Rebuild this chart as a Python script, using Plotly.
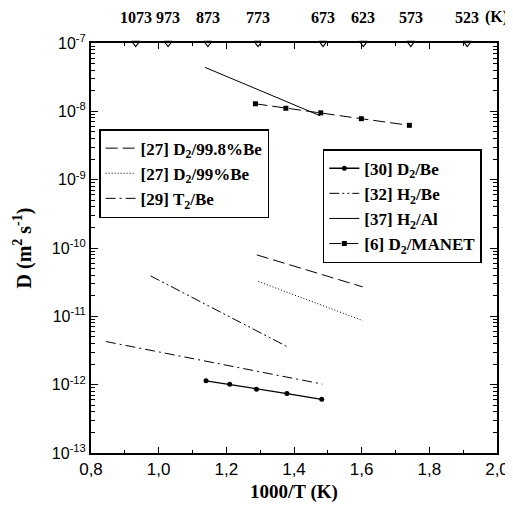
import plotly.graph_objects as go

# ---- data ----
d30_x = [1.140, 1.210, 1.289, 1.379, 1.482]
d30_y = [1.14e-12, 1.01e-12, 8.6e-13, 7.4e-13, 6.1e-13]

h32_x = [0.976, 1.379]
h32_y = [3.91e-11, 3.62e-12]

t29_x = [0.844, 1.484]
t29_y = [4.28e-12, 1.02e-12]

d27a_x = [1.290, 1.603]
d27a_y = [7.93e-11, 2.70e-11]

d27b_x = [1.295, 1.603]
d27b_y = [3.23e-11, 8.68e-12]

h37_x = [1.137, 1.477]
h37_y = [4.40e-8, 8.63e-9]

manet_x = [1.286, 1.376, 1.479, 1.599, 1.741]
manet_y = [1.29e-8, 1.11e-8, 9.5e-9, 7.8e-9, 6.24e-9]

top_temps = [1073, 973, 873, 773, 673, 623, 573, 523]
top_pos = [1000.0 / t for t in top_temps]

x_tickvals = [0.8, 1.0, 1.2, 1.4, 1.6, 1.8, 2.0]
x_ticktext = ["0,8", "1,0", "1,2", "1,4", "1,6", "1,8", "2,0"]
x_minor = [0.9, 1.1, 1.3, 1.5, 1.7, 1.9]
y_exps = [-13, -12, -11, -10, -9, -8, -7]
y_tickvals = [10.0 ** e for e in y_exps]
y_ticktext = ["10<sup>%d</sup>" % e for e in y_exps]
y_minor = [m * 10.0 ** e for e in y_exps[:-1] for m in range(2, 10)]

TIMES = "Liberation Serif"
SANS = "Liberation Sans"

fig = go.Figure()

# legend 1 traces
fig.add_trace(go.Scatter(x=d27a_x, y=d27a_y, mode="lines", name="[27] D<sub>2</sub>/99.8%Be",
                         line=dict(color="black", width=1, dash="12px,5px"), legend="legend"))
fig.add_trace(go.Scatter(x=d27b_x, y=d27b_y, mode="lines", name="[27] D<sub>2</sub>/99%Be",
                         line=dict(color="black", width=1, dash="1px,2px"), legend="legend"))
fig.add_trace(go.Scatter(x=t29_x, y=t29_y, mode="lines", name="[29] T<sub>2</sub>/Be",
                         line=dict(color="black", width=1, dash="10px,4px,2px,4px"), legend="legend"))

# legend 2 traces
fig.add_trace(go.Scatter(x=d30_x, y=d30_y, mode="lines+markers", name="[30] D<sub>2</sub>/Be",
                         line=dict(color="black", width=1.3),
                         marker=dict(symbol="circle", size=5, color="black"), legend="legend2"))
fig.add_trace(go.Scatter(x=h32_x, y=h32_y, mode="lines", name="[32] H<sub>2</sub>/Be",
                         line=dict(color="black", width=1, dash="10px,3px,2px,3px,2px,3px"), legend="legend2"))
fig.add_trace(go.Scatter(x=h37_x, y=h37_y, mode="lines", name="[37] H<sub>2</sub>/Al",
                         line=dict(color="black", width=1), legend="legend2"))
fig.add_trace(go.Scatter(x=manet_x, y=manet_y, mode="lines+markers", name="[6] D<sub>2</sub>/MANET",
                         line=dict(color="black", width=1, dash="12px,5px"),
                         marker=dict(symbol="square", size=5, color="black"), legend="legend2"))

# top temperature markers
fig.add_trace(go.Scatter(x=top_pos, y=[1e-7] * len(top_pos), mode="markers", showlegend=False,
                         marker=dict(symbol="triangle-down-open", size=7, color="black",
                                     line=dict(width=1.2)),
                         cliponaxis=False, hoverinfo="skip"))

for xp, t in zip(top_pos, top_temps):
    fig.add_annotation(x=xp, y=1, xref="x", yref="paper", yanchor="bottom", yshift=15,
                       text="<b>%d</b>" % t, showarrow=False,
                       font=dict(family=TIMES, size=16, color="black"))
fig.add_annotation(x=top_pos[-1], y=1, xref="x", yref="paper", xanchor="left", yanchor="bottom",
                   xshift=16, yshift=15, text="<b>(K)</b>", showarrow=False,
                   font=dict(family=TIMES, size=16, color="black"))

fig.update_layout(
    width=505, height=512,
    margin=dict(l=83, r=16, t=35, b=67),
    paper_bgcolor="white", plot_bgcolor="white",
    font=dict(family=SANS, color="black"),
    legend=dict(x=0.02, y=0.79, xanchor="left", yanchor="top",
                bordercolor="black", borderwidth=1.5, bgcolor="white",
                font=dict(family=TIMES, size=17, color="black", weight="bold"),
                tracegroupgap=0),
    legend2=dict(x=0.571, y=0.741, xanchor="left", yanchor="top",
                 bordercolor="black", borderwidth=1.5, bgcolor="white",
                 font=dict(family=TIMES, size=17, color="black", weight="bold"),
                 tracegroupgap=0),
    showlegend=True,
)

fig.update_xaxes(range=[0.8, 2.0], tickmode="array", tickvals=x_tickvals, ticktext=x_ticktext,
                 ticks="inside", ticklen=6, tickwidth=1, tickcolor="black",
                 minor=dict(ticks="inside", ticklen=3, tickmode="array", tickvals=x_minor,
                            tickcolor="black", showgrid=False),
                 showline=True, linecolor="black", linewidth=2, mirror="allticks",
                 showgrid=False, zeroline=False, automargin=False,
                 tickfont=dict(family=SANS, size=17, color="black"),
                 title=dict(text="<b>1000/T (K)</b>", font=dict(family=TIMES, size=19, color="black"),
                            standoff=6))

fig.update_yaxes(type="log", range=[-13, -7], tickmode="array", tickvals=y_tickvals, ticktext=y_ticktext,
                 ticks="inside", ticklen=7, tickwidth=1, tickcolor="black",
                 minor=dict(ticks="inside", ticklen=4, tickmode="array", tickvals=y_minor,
                            tickcolor="black", showgrid=False),
                 showline=True, linecolor="black", linewidth=2, mirror="allticks",
                 showgrid=False, zeroline=False, automargin=False,
                 tickfont=dict(family=SANS, size=16, color="black"),
                 title=dict(text="<b>D (m<sup>2</sup> s<sup>-1</sup>)</b>",
                            font=dict(family=TIMES, size=20, color="black"), standoff=15))

fig.write_html("out.html")
